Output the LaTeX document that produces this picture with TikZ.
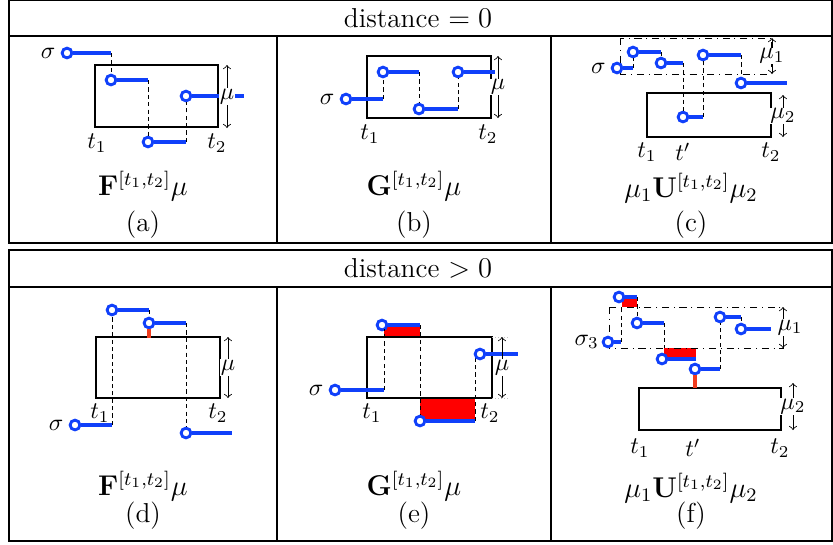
\documentclass[tikz,border=0pt]{standalone}
\usepackage{amsmath,amssymb}
\usepackage{xcolor}
\usepackage{tikz}
\usetikzlibrary{arrows,positioning,calc}
\definecolor{sigblue}{RGB}{16,64,250}
\definecolor{violline}{RGB}{240,60,30}

\begin{document}
\begin{tikzpicture}[x=0.42pt, y=-0.42pt]
    \tikzstyle{sig} = [draw=sigblue, line width=1.5pt]
    \tikzstyle{dot} = [circle, draw=sigblue, fill=white, line width=1.2pt, inner sep=0pt, minimum size=4.1pt]
    \tikzstyle{guide} = [dashed, dash pattern=on 1.8pt off 1.3pt, line width=0.4pt]
    \tikzstyle{zone} = [line width=1pt]
    \tikzstyle{band} = [dash dot, line width=0.4pt]
    \tikzstyle{span} = [<->, >=to, line width=0.35pt]
    \tikzstyle{viol} = [fill=red]
    \tikzstyle{violbar} = [draw=violline, line width=1.7pt]
    \tikzstyle{lab} = [font=\normalsize, inner sep=1pt]
    \tikzstyle{siglab} = [font=\normalsize, inner sep=2pt, anchor=east]
    \tikzstyle{formula} = [font=\fontsize{12}{14}\selectfont]
    \tikzstyle{caption} = [font=\fontsize{11.5}{14}\selectfont]
    \tikzstyle{cell} = [line width=0.6pt]

    \useasboundingbox (0,0) rectangle (833,544);

    % Table frames
    \draw[cell] (9,0.5) rectangle (832,243);
    \draw[cell] (9,36) -- (832,36);
    \draw[cell] (277,36) -- (277,243);
    \draw[cell] (551,36) -- (551,243);
    \draw[cell] (9,250) rectangle (832,541);
    \draw[cell] (9,287) -- (832,287);
    \draw[cell] (277,287) -- (277,541);
    \draw[cell] (551,287) -- (551,541);
    \node[caption] (head0) at (418,18) {distance $=0$};
    \node[caption] (head1) at (418,268) {distance $>0$};

    % (a)
    \draw[zone] (95,65) rectangle (218,127);
    \node[dot] (a1) at (67,53) {};
    \node[siglab] (a1s) at (a1.west) {$\sigma$};
    \draw[sig] (a1) -- (111,53) coordinate (a1e);
    \node[dot] (a2) at (111,80) {};
    \draw[guide] (a1e) -- (a2);
    \draw[sig] (a2) -- (148,80) coordinate (a2e);
    \node[dot] (a3) at (148,142) {};
    \draw[guide] (a2e) -- (a3);
    \draw[sig] (a3) -- (186,142) coordinate (a3e);
    \node[dot] (a4) at (186,96) {};
    \draw[guide] (a3e) -- (a4);
    \draw[sig] (a4) -- (244,96);
    \draw[span] (227,65) -- node[lab, fill=white, inner sep=0.3pt] (amu) {$\mu$} (227,128);
    \node[lab] (at1) at (97,143) {$t_1$};
    \node[lab] (at2) at (217,143) {$t_2$};
    \node[formula] (aform) at (143,186) {$\mathbf{F}^{[t_1,t_2]}\mu$};
    \node[caption] (acap) at (143,225) {(a)};

    % (b)
    \draw[zone] (367,56) rectangle (491,118);
    \node[dot] (b1) at (346,99) {};
    \node[siglab] (b1s) at (b1.west) {$\sigma$};
    \draw[sig] (b1) -- (383,99) coordinate (b1e);
    \node[dot] (b2) at (383,72) {};
    \draw[guide] (b1e) -- (b2);
    \draw[sig] (b2) -- (419,72) coordinate (b2e);
    \node[dot] (b3) at (419,109) {};
    \draw[guide] (b2e) -- (b3);
    \draw[sig] (b3) -- (458,109) coordinate (b3e);
    \node[dot] (b4) at (458,72) {};
    \draw[guide] (b3e) -- (b4);
    \draw[sig] (b4) -- (495,72);
    \draw[span] (498,56) -- node[lab, fill=white, inner sep=0.3pt] (bmu) {$\mu$} (498,118);
    \node[lab] (bt1) at (370,134) {$t_1$};
    \node[lab] (bt2) at (488,134) {$t_2$};
    \node[formula] (bform) at (414,186) {$\mathbf{G}^{[t_1,t_2]}\mu$};
    \node[caption] (bcap) at (414,225) {(b)};

    % (c)
    \draw[band] (620,38) rectangle (771,74);
    \draw[zone] (647,93) rectangle (771,137);
    \node[dot] (c1) at (617,68) {};
    \node[siglab] (c1s) at (c1.west) {$\sigma$};
    \draw[sig] (c1) -- (633,68) coordinate (c1e);
    \node[dot] (c2) at (633,52) {};
    \draw[guide] (c1e) -- (c2);
    \draw[sig] (c2) -- (661,52) coordinate (c2e);
    \node[dot] (c3) at (661,63) {};
    \draw[guide] (c2e) -- (c3);
    \draw[sig] (c3) -- (683,63) coordinate (c3e);
    \node[dot] (c4) at (683,117) {};
    \draw[guide] (c3e) -- (c4);
    \draw[sig] (c4) -- (703,117) coordinate (c4e);
    \node[dot] (c5) at (703,55) {};
    \draw[guide] (c4e) -- (c5);
    \draw[sig] (c5) -- (741,55) coordinate (c5e);
    \node[dot] (c6) at (741,83) {};
    \draw[guide] (c5e) -- (c6);
    \draw[sig] (c6) -- (787,83);
    \draw[span] (772,38) -- node[lab, fill=white, inner sep=0.3pt] (cmu1) {$\mu_1$} (772,74);
    \draw[span] (783,95) -- node[lab, fill=white, inner sep=0.3pt] (cmu2) {$\mu_2$} (783,137);
    \node[lab] (ct1) at (647,152) {$t_1$};
    \node[lab] (ctp) at (683,152) {$t'$};
    \node[lab] (ct2) at (771,152) {$t_2$};
    \node[formula] (cform) at (691,188) {$\mu_1\mathbf{U}^{[t_1,t_2]}\mu_2$};
    \node[caption] (ccap) at (691,225) {(c)};

    % (d)
    \draw[zone] (96,337) rectangle (220,398);
    \node[dot] (d1) at (75,425) {};
    \node[siglab] (d1s) at (d1.west) {$\sigma$};
    \draw[sig] (d1) -- (112,425) coordinate (d1e);
    \node[dot] (d2) at (112,310) {};
    \draw[guide] (d1e) -- (d2);
    \draw[sig] (d2) -- (149,310) coordinate (d2e);
    \node[dot] (d3) at (149,323) {};
    \draw[guide] (d2e) -- (d3);
    \draw[violbar] (d3) -- (149,338);
    \draw[sig] (d3) -- (186,323) coordinate (d3e);
    \node[dot] (d4) at (186,433) {};
    \draw[guide] (d3e) -- (d4);
    \draw[sig] (d4) -- (232,433);
    \draw[span] (228,337) -- node[lab, fill=white, inner sep=0.3pt] (dmu) {$\mu$} (228,398);
    \node[lab] (dt1) at (100,413) {$t_1$};
    \node[lab] (dt2) at (218,413) {$t_2$};
    \node[formula] (dform) at (143,486) {$\mathbf{F}^{[t_1,t_2]}\mu$};
    \node[caption] (dcap) at (143,516) {(d)};

    % (e)
    \fill[viol] (384,325) rectangle (420,337);
    \fill[viol] (420,398) rectangle (475,421);
    \draw[zone] (367,337) rectangle (492,398);
    \draw[gray!50, densely dotted, line width=0.3pt] (492,337) -- (508,337);
    \draw[gray!50, densely dotted, line width=0.3pt] (492,398) -- (508,398);
    \node[dot] (e1) at (335,390) {};
    \node[siglab] (e1s) at (e1.west) {$\sigma$};
    \draw[sig] (e1) -- (384,390) coordinate (e1e);
    \node[dot] (e2) at (382,325) {};
    \draw[guide] (e1e) -- (384,329);
    \draw[sig] (e2) -- (420,325) coordinate (e2e);
    \node[dot] (e3) at (420,421) {};
    \draw[guide] (e2e) -- (e3);
    \draw[sig] (e3) -- (475,421) coordinate (e3e);
    \draw[guide] (e3e) -- (475,357);
    \node[dot] (e4) at (480,354) {};
    \draw[sig] (e4) -- (518,354);
    \draw[span] (502,337) -- node[lab, fill=white, inner sep=0.3pt] (emu) {$\mu$} (502,398);
    \node[lab] (et1) at (372,413) {$t_1$};
    \node[lab] (et2) at (490,413) {$t_2$};
    \node[formula] (eform) at (414,486) {$\mathbf{G}^{[t_1,t_2]}\mu$};
    \node[caption] (ecap) at (414,516) {(e)};

    % (f)
    \fill[viol] (622,297) rectangle (637,307);
    \fill[viol] (664,348) rectangle (696,359);
    \draw[band] (609,307) rectangle (783,348);
    \draw[zone] (639,388) rectangle (781,430);
    \node[dot] (f1) at (608,342) {};
    \node[siglab, inner sep=1pt] (f1s) at (f1.west) {$\sigma_3$};
    \draw[sig] (f1) -- (621,342) coordinate (f1e);
    \draw[guide] (f1e) -- (621,307);
    \node[dot] (f2) at (619,297) {};
    \draw[sig] (f2) -- (637,297) coordinate (f2e);
    \node[dot] (f3) at (637,323) {};
    \draw[guide] (f2e) -- (f3);
    \draw[sig] (f3) -- (664,323) coordinate (f3e);
    \draw[guide] (f3e) -- (664,348);
    \node[dot] (f4) at (662,359) {};
    \draw[sig] (f4) -- (696,359) coordinate (f4e);
    \node[dot] (f5) at (695,369) {};
    \draw[violbar] (f5) -- (695,388);
    \draw[sig] (f5) -- (720,369) coordinate (f5e);
    \node[dot] (f6) at (720,317) {};
    \draw[guide] (f5e) -- (f6);
    \draw[sig] (f6) -- (741,317) coordinate (f6e);
    \node[dot] (f7) at (741,329) {};
    \draw[guide] (f6e) -- (f7);
    \draw[sig] (f7) -- (771,329);
    \draw[span] (783,307) -- node[lab, fill=white, inner sep=0.3pt, xshift=3pt] (fmu1) {$\mu_1$} (783,348);
    \draw[span] (793,383) -- node[lab, fill=white, inner sep=0.3pt] (fmu2) {$\mu_2$} (793,430);
    \node[lab] (ft1) at (640,448) {$t_1$};
    \node[lab] (ftp) at (693,448) {$t'$};
    \node[lab] (ft2) at (780,448) {$t_2$};
    \node[formula] (fform) at (691,488) {$\mu_1\mathbf{U}^{[t_1,t_2]}\mu_2$};
    \node[caption] (fcap) at (691,516) {(f)};
\end{tikzpicture}
\end{document}
